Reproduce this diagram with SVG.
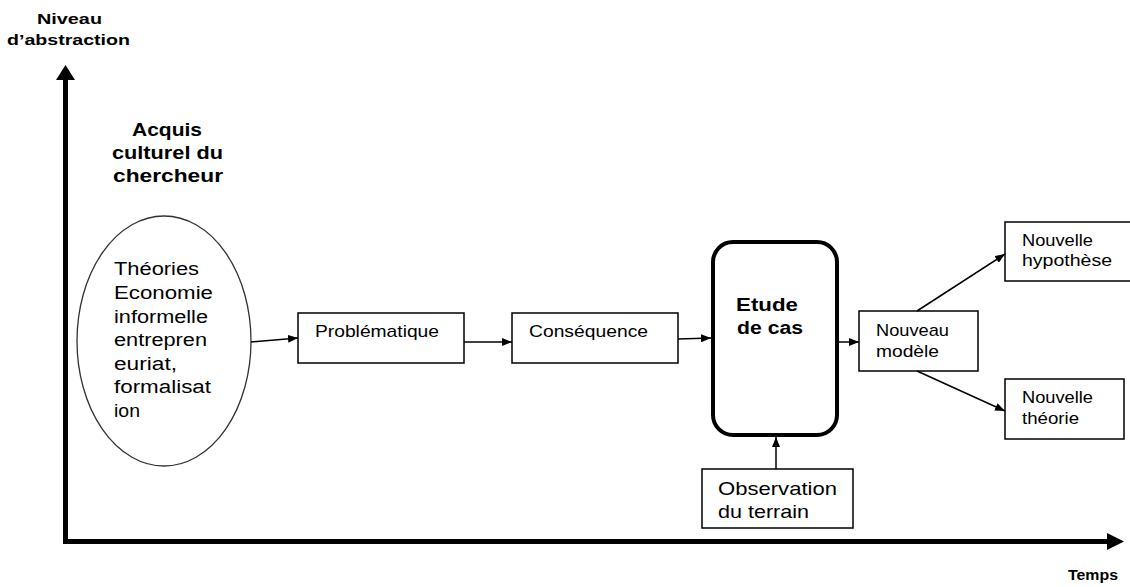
<svg xmlns="http://www.w3.org/2000/svg" width="1130" height="587" viewBox="0 0 1130 587">
<style>
  text { font-family: "Liberation Sans", Arial, sans-serif; fill: #000; }
  .b { font-weight: bold; }
  .box { fill: #fff; stroke: #000; stroke-width: 1.5; }
  .con { stroke: #000; stroke-width: 1.5; fill: none; marker-end: url(#ah); }
  .axis { stroke: #000; stroke-width: 5; fill: none; }
</style>
<defs>
  <marker id="ah" viewBox="0 0 10 8" refX="10" refY="4" markerWidth="10" markerHeight="8" markerUnits="userSpaceOnUse" orient="auto">
    <path d="M0,0 L10,4 L0,8 Z" fill="#000"/>
  </marker>
</defs>
<rect width="1130" height="587" fill="#fff"/>

<g id="axes">
  <polyline class="axis" points="65.5,80 65.5,541.5 1108,541.5"/>
  <path d="M65.5,65 L75,80 L56,80 Z" fill="#000"/>
  <path d="M1124,541.5 L1107,533 L1107,550 Z" fill="#000"/>
  <text class="b" x="37" y="24" font-size="15" textLength="65" lengthAdjust="spacingAndGlyphs">Niveau</text>
  <text class="b" x="7" y="45" font-size="15" textLength="123" lengthAdjust="spacingAndGlyphs">d’abstraction</text>
  <text class="b" x="1068" y="580" font-size="15" textLength="50" lengthAdjust="spacingAndGlyphs">Temps</text>
</g>

<g id="acquis">
  <text class="b" x="132" y="136" font-size="18" textLength="70" lengthAdjust="spacingAndGlyphs">Acquis</text>
  <text class="b" x="112" y="159" font-size="18" textLength="111" lengthAdjust="spacingAndGlyphs">culturel du</text>
  <text class="b" x="113" y="182" font-size="18" textLength="110" lengthAdjust="spacingAndGlyphs">chercheur</text>
</g>

<g id="theories">
  <ellipse cx="164" cy="341" rx="87" ry="125" fill="#fff" stroke="#333" stroke-width="1.3"/>
  <text x="114" y="275" font-size="18" textLength="85" lengthAdjust="spacingAndGlyphs">Théories</text>
  <text x="114" y="299" font-size="18" textLength="99" lengthAdjust="spacingAndGlyphs">Economie</text>
  <text x="114" y="323" font-size="18" textLength="94" lengthAdjust="spacingAndGlyphs">informelle</text>
  <text x="114" y="346" font-size="18" textLength="93" lengthAdjust="spacingAndGlyphs">entrepren</text>
  <text x="114" y="370" font-size="18" textLength="63" lengthAdjust="spacingAndGlyphs">euriat,</text>
  <text x="114" y="393" font-size="18" textLength="97" lengthAdjust="spacingAndGlyphs">formalisat</text>
  <text x="114" y="417" font-size="18" textLength="26" lengthAdjust="spacingAndGlyphs">ion</text>
</g>

<g id="problematique">
  <rect class="box" x="298" y="313" width="166" height="50"/>
  <text x="315" y="337" font-size="17" textLength="124" lengthAdjust="spacingAndGlyphs">Problématique</text>
</g>

<g id="consequence">
  <rect class="box" x="512" y="313" width="166" height="50"/>
  <text x="529" y="337" font-size="17" textLength="119" lengthAdjust="spacingAndGlyphs">Conséquence</text>
</g>

<g id="etude">
  <rect x="713" y="242" width="124" height="193" rx="20" ry="20" fill="#fff" stroke="#000" stroke-width="4"/>
  <text class="b" x="736" y="311" font-size="18" textLength="62" lengthAdjust="spacingAndGlyphs">Etude</text>
  <text class="b" x="737" y="334" font-size="18" textLength="66" lengthAdjust="spacingAndGlyphs">de cas</text>
</g>

<g id="observation">
  <rect class="box" x="702" y="469" width="151" height="59"/>
  <text x="718" y="495" font-size="19" textLength="119" lengthAdjust="spacingAndGlyphs">Observation</text>
  <text x="718" y="518" font-size="19" textLength="91" lengthAdjust="spacingAndGlyphs">du terrain</text>
</g>

<g id="modele">
  <rect class="box" x="859" y="311" width="119" height="60"/>
  <text x="876" y="336" font-size="17" textLength="73" lengthAdjust="spacingAndGlyphs">Nouveau</text>
  <text x="876" y="357" font-size="17" textLength="63" lengthAdjust="spacingAndGlyphs">modèle</text>
</g>

<g id="hypothese">
  <rect class="box" x="1005" y="222" width="135" height="59"/>
  <text x="1022" y="246" font-size="17" textLength="71" lengthAdjust="spacingAndGlyphs">Nouvelle</text>
  <text x="1022" y="266" font-size="17" textLength="90" lengthAdjust="spacingAndGlyphs">hypothèse</text>
</g>

<g id="theorie">
  <rect class="box" x="1005" y="379" width="119" height="60"/>
  <text x="1022" y="403" font-size="17" textLength="71" lengthAdjust="spacingAndGlyphs">Nouvelle</text>
  <text x="1022" y="424" font-size="17" textLength="57" lengthAdjust="spacingAndGlyphs">théorie</text>
</g>

<g id="connectors">
  <line class="con" x1="251" y1="342" x2="298" y2="338"/>
  <line class="con" x1="464" y1="342" x2="512" y2="342"/>
  <line class="con" x1="678" y1="339" x2="711" y2="338"/>
  <line class="con" x1="776" y1="469" x2="776" y2="437"/>
  <line class="con" x1="839" y1="342" x2="859" y2="342"/>
  <line class="con" x1="917" y1="311" x2="1005" y2="254"/>
  <line class="con" x1="917" y1="371" x2="1005" y2="411"/>
</g>
</svg>
